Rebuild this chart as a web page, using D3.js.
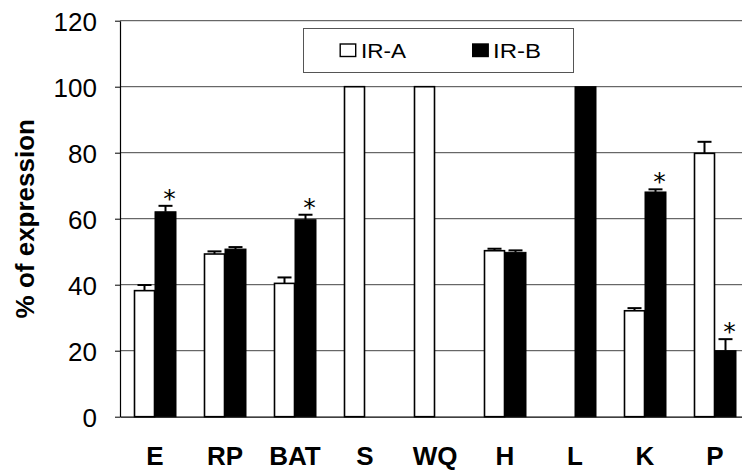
<!DOCTYPE html>
<html>
<head>
<meta charset="utf-8">
<script src="https://cdn.jsdelivr.net/npm/d3@7"></script>
<style>
  html, body { margin: 0; padding: 0; background: #fff; }
  svg { display: block; font-family: "Liberation Sans", Arial, sans-serif; }
</style>
</head>
<body>
<div id="chart"></div>
<script>
const categories = ["E", "RP", "BAT", "S", "WQ", "H", "L", "K", "P"];
const irA    = [38.2, 49.3, 40.4, 100, 100, 50.3, null, 32.1, 79.8];
const irAErr = [1.7, 0.8, 1.8, 0, 0, 0.6, 0, 0.8, 3.5];
const irB    = [62.1, 50.8, 59.7, null, null, 49.8, 100, 68.1, 20.0];
const irBErr = [1.8, 0.6, 1.5, 0, 0, 0.6, 0, 0.8, 3.5];
const irBStar = [true, false, true, false, false, false, false, true, true];
const yTicks = [0, 20, 40, 60, 80, 100, 120];
const seriesNames = ["IR-A", "IR-B"];

const w = 742;
const h = 470;
const plotLeft = 120;
const plotRight = 750;
const plotTop = 20.7;
const plotBottom = 416.7;
const barW = 21;

const svg = d3.select('#chart')
  .append('svg')
  .attr('width', w)
  .attr('height', h);

const xScale = d3.scaleBand()
  .domain(categories)
  .range([plotLeft, plotRight])
  .padding(0);

const yScale = d3.scaleLinear()
  .domain([0, 120])
  .range([plotBottom, plotTop]);

// gridlines
svg.append('g')
  .selectAll('line')
  .data(yTicks.filter(t => t > 0))
  .enter()
  .append('line')
  .attr('x1', plotLeft)
  .attr('x2', plotRight)
  .attr('y1', d => yScale(d))
  .attr('y2', d => yScale(d))
  .attr('stroke', '#444')
  .attr('stroke-width', 1);

const rows = categories.map((c, i) => ({ c, a: irA[i], ae: irAErr[i], b: irB[i], be: irBErr[i], star: irBStar[i] }));
const cx = d => xScale(d.c) + xScale.bandwidth() / 2;

// IR-A bars (white)
svg.append('g')
  .selectAll('rect')
  .data(rows.filter(d => d.a != null))
  .enter()
  .append('rect')
  .attr('x', d => cx(d) - barW + 0.5)
  .attr('y', d => yScale(d.a))
  .attr('width', barW - 1)
  .attr('height', d => plotBottom - yScale(d.a))
  .attr('fill', '#fff')
  .attr('stroke', '#000')
  .attr('stroke-width', 1.6);

// IR-B bars (black)
svg.append('g')
  .selectAll('rect')
  .data(rows.filter(d => d.b != null))
  .enter()
  .append('rect')
  .attr('x', d => cx(d))
  .attr('y', d => yScale(d.b))
  .attr('width', barW)
  .attr('height', d => plotBottom - yScale(d.b))
  .attr('fill', '#000')
  .attr('stroke', '#000')
  .attr('stroke-width', 1);

// error bars (upper half only)
const errs = [];
rows.forEach(d => {
  if (d.a != null && d.ae > 0) errs.push({ x: cx(d) - barW / 2, v: d.a, e: d.ae });
  if (d.b != null && d.be > 0) errs.push({ x: cx(d) + barW / 2, v: d.b, e: d.be });
});
const eg = svg.append('g').attr('stroke', '#000').attr('stroke-width', 2);
eg.selectAll('.stem')
  .data(errs)
  .enter()
  .append('line')
  .attr('x1', d => d.x).attr('x2', d => d.x)
  .attr('y1', d => yScale(d.v)).attr('y2', d => yScale(d.v + d.e));
eg.selectAll('.cap')
  .data(errs)
  .enter()
  .append('line')
  .attr('x1', d => d.x - 7).attr('x2', d => d.x + 7)
  .attr('y1', d => yScale(d.v + d.e)).attr('y2', d => yScale(d.v + d.e));

// significance stars
svg.append('g')
  .selectAll('text')
  .data(rows.filter(d => d.star))
  .enter()
  .append('text')
  .attr('x', d => cx(d) + barW / 2 + 4)
  .attr('y', d => yScale(d.b + d.be) + 1)
  .attr('text-anchor', 'middle')
  .attr('fill', '#000')
  .style('font-family', '"DejaVu Sans", sans-serif')
  .style('font-size', '25px')
  .text('*');

// y axis
const yAxis = d3.axisLeft(yScale)
  .tickValues(yTicks)
  .tickSize(5)
  .tickSizeOuter(0)
  .tickPadding(18);

const yg = svg.append('g')
  .attr('transform', `translate(${plotLeft},0)`)
  .call(yAxis);
yg.select('.domain').attr('stroke', '#000').attr('stroke-width', 1.2);
yg.selectAll('.tick line').attr('stroke', '#000');
yg.selectAll('text')
  .attr('fill', '#000')
  .attr('dy', '0.36em')
  .style('font-family', '"Liberation Sans", Arial, sans-serif')
  .style('font-size', '26px');

// x axis
const xAxis = d3.axisBottom(xScale)
  .tickSize(0)
  .tickSizeOuter(0);

const xg = svg.append('g')
  .attr('transform', `translate(0,${plotBottom})`)
  .call(xAxis);
xg.select('.domain').attr('stroke', '#000').attr('stroke-width', 1.2);
xg.selectAll('text')
  .attr('fill', '#000')
  .attr('y', 48)
  .attr('dy', 0)
  .style('font-family', '"Liberation Sans", Arial, sans-serif')
  .style('font-weight', 'bold')
  .style('font-size', '26px');

// y title
svg.append('text')
  .attr('transform', `translate(34,${(plotTop + plotBottom) / 2}) rotate(-90)`)
  .attr('text-anchor', 'middle')
  .style('font-family', '"Liberation Sans", Arial, sans-serif')
  .style('font-weight', 'bold')
  .style('font-size', '26px')
  .text('% of expression');

// legend
const lg = svg.append('g');
lg.append('rect')
  .attr('x', 303.5).attr('y', 28.5)
  .attr('width', 270).attr('height', 44)
  .attr('fill', '#fff')
  .attr('stroke', '#555')
  .attr('stroke-width', 1);

const legendX = [339.5, 472];
const legendItems = lg.selectAll('.item')
  .data(seriesNames)
  .enter()
  .append('g')
  .attr('transform', (d, i) => `translate(${legendX[i]},0)`);
legendItems.append('rect')
  .attr('x', 0.7).attr('y', 44)
  .attr('width', 15.5).attr('height', 12.5)
  .attr('fill', (d, i) => i === 0 ? '#fff' : '#000')
  .attr('stroke', '#000')
  .attr('stroke-width', 1.4);
legendItems.append('text')
  .attr('x', (d, i) => i === 0 ? 21.5 : 21)
  .attr('y', 57.5)
  .attr('textLength', (d, i) => i === 0 ? 45 : 48)
  .attr('lengthAdjust', 'spacingAndGlyphs')
  .style('font-family', '"Liberation Sans", Arial, sans-serif')
  .style('font-size', '20px')
  .text(d => d);
</script>
</body>
</html>
